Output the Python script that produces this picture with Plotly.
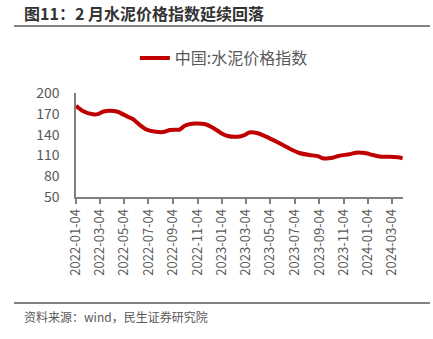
import plotly.graph_objects as go

title_text = "图11：2 月水泥价格指数延续回落"
source_text = "资料来源：wind，民生证券研究院"
series_name = "中国:水泥价格指数"

dates = [
    "2022-01-04", "2022-01-21", "2022-02-15", "2022-02-27", "2022-03-12", "2022-03-29",
    "2022-04-18", "2022-05-09", "2022-05-26", "2022-06-12", "2022-06-28", "2022-07-23",
    "2022-08-13", "2022-08-26", "2022-09-11", "2022-09-19", "2022-10-02", "2022-10-08",
    "2022-10-27", "2022-11-21", "2022-12-12", "2023-01-02", "2023-01-18", "2023-02-12",
    "2023-03-01", "2023-03-13", "2023-04-03", "2023-04-24", "2023-05-19", "2023-06-13",
    "2023-06-21", "2023-07-16", "2023-08-10", "2023-08-31", "2023-09-12", "2023-10-07",
    "2023-10-24", "2023-11-18", "2023-12-05", "2023-12-30", "2024-01-15", "2024-02-05",
    "2024-02-26", "2024-03-18", "2024-03-30",
]
values = [
    181.5, 174.0, 169.3, 169.5, 173.0, 174.5,
    173.0, 167.0, 162.5, 154.0, 147.6, 144.0,
    144.0, 146.6, 147.0, 147.0, 152.4, 154.0,
    156.0, 155.3, 150.0, 142.0, 138.0, 137.0,
    139.4, 143.0, 142.0, 137.0, 130.0, 122.5,
    120.0, 113.5, 110.6, 109.0, 106.0, 106.5,
    109.6, 111.6, 113.9, 113.0, 110.6, 108.1,
    108.0, 107.2, 106.0,
]

tick_dates = [
    "2022-01-04", "2022-03-04", "2022-05-04", "2022-07-04", "2022-09-04", "2022-11-04",
    "2023-01-04", "2023-03-04", "2023-05-04", "2023-07-04", "2023-09-04", "2023-11-04",
    "2024-01-04", "2024-03-04",
]
y_ticks = [50, 80, 110, 140, 170, 200]

FONT = "Noto Sans CJK SC"
GRAY = "#595959"

fig = go.Figure()
fig.add_trace(go.Scatter(
    x=dates, y=values, mode="lines", name=series_name,
    line=dict(color="#C00000", width=4, shape="spline", smoothing=0.6),
))

fig.update_layout(
    width=433, height=339,
    margin=dict(l=76, r=30, t=93, b=142),
    paper_bgcolor="white", plot_bgcolor="white",
    font=dict(family=FONT, color=GRAY, size=13),
    showlegend=True,
    legend=dict(orientation="h", x=0.18, y=(197 - 58) / 104, xanchor="left", yanchor="middle",
                font=dict(size=16, color=GRAY), bgcolor="rgba(0,0,0,0)"),
    xaxis=dict(
        type="date", range=["2022-01-04", "2024-03-31"],
        tickvals=tick_dates, ticktext=tick_dates, tickangle=-90,
        ticks="outside", ticklen=5, tickcolor="#7f7f7f", tickwidth=1.5,
        showline=True, linecolor="#7f7f7f", linewidth=1.5,
        showgrid=False, zeroline=False,
        tickfont=dict(size=13, color=GRAY),
    ),
    yaxis=dict(
        range=[50, 200], tickvals=y_ticks,
        showline=True, linecolor="#7f7f7f", linewidth=1.5,
        showgrid=False, zeroline=False, ticks="",
        ticklabelstandoff=12,
        tickfont=dict(size=14, color=GRAY),
    ),
)

fig.add_annotation(text="<b>" + title_text + "</b>", xref="paper", yref="paper",
                   x=(22 - 76) / 327, y=(197 - 13) / 104, xanchor="left", yanchor="middle",
                   showarrow=False, font=dict(size=16, color="#333333", family=FONT))
fig.add_annotation(text=source_text, xref="paper", yref="paper",
                   x=(22 - 76) / 327, y=(197 - 316) / 104, xanchor="left", yanchor="middle",
                   showarrow=False, font=dict(size=12, color=GRAY, family=FONT))
fig.add_shape(type="line", xref="paper", yref="paper",
              x0=(14 - 76) / 327, x1=(430 - 76) / 327, y0=(197 - 26) / 104, y1=(197 - 26) / 104,
              line=dict(color="#595959", width=1.5))
fig.add_shape(type="line", xref="paper", yref="paper",
              x0=(14 - 76) / 327, x1=(430 - 76) / 327, y0=(197 - 303) / 104, y1=(197 - 303) / 104,
              line=dict(color="#595959", width=1.5))

fig.write_html("out.html")
